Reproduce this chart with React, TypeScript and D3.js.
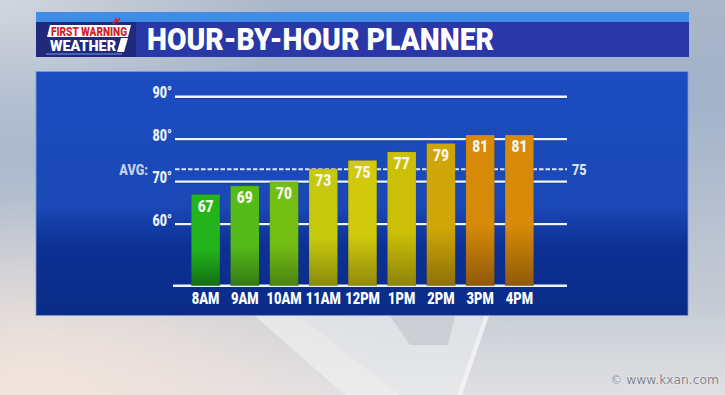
import React from "react";
import * as d3 from "d3";

const hours = ["8AM", "9AM", "10AM", "11AM", "12PM", "1PM", "2PM", "3PM", "4PM"];
const temps = [67, 69, 70, 73, 75, 77, 79, 81, 81];
const barTopColors = ["#23b31b", "#55bb18", "#74be14", "#c6c80c", "#d0c90c", "#ccbf08", "#cfa607", "#d68a07", "#d68a07"];
const barBottomColors = ["#137016", "#347a14", "#4a8410", "#8a8a0a", "#928a0a", "#8e840a", "#8e700a", "#8e5a0a", "#8e5a0a"];
const yTicks = [60, 70, 80, 90];
const yDomain = [45.5, 90];
const avgValue = 75;
const avgLineAt = 72.9;
const title = "HOUR-BY-HOUR PLANNER";

const W = 725;
const H = 395;
const FONT = "Roboto, 'Noto Sans', sans-serif";

function SText(props: {
  x: number; y: number; sx: number; size: number; fill: string;
  anchor?: string; children: React.ReactNode; weight?: number | string;
}) {
  const { x, y, sx, size, fill, anchor = "start", children, weight = 900 } = props;
  return (
    <g transform={`translate(${x},${y}) scale(${sx},1)`}>
      <text x={0} y={0} fontFamily={FONT} fontWeight={weight} fontSize={size} fill={fill} textAnchor={anchor as any}>
        {children}
      </text>
    </g>
  );
}

export default function App() {
  const x = d3.scaleBand<string>().domain(hours).range([186, 539]).paddingInner(0.27).paddingOuter(0.135);
  const y = d3.scaleLinear().domain(yDomain).range([285.7, 96.7]);
  const gridX0 = 175;
  const gridX1 = 567;
  const panel = { x0: 36, x1: 688, y0: 71.5, y1: 315.5 };

  return (
    <svg width={W} height={H} style={{ position: "absolute", left: 0, top: 0, display: "block" }}>
      <defs>
        <linearGradient id="sky" x1="0" y1="0" x2="0" y2="1">
          <stop offset="0" stopColor="#aab6c9" />
          <stop offset="0.25" stopColor="#a2b2ca" />
          <stop offset="0.75" stopColor="#c4cad3" />
          <stop offset="1" stopColor="#e0e0e2" />
        </linearGradient>
        <radialGradient id="glowBL" cx="0.05" cy="1" r="0.5">
          <stop offset="0" stopColor="#f4e4dc" stopOpacity="1" />
          <stop offset="1" stopColor="#f4e4dc" stopOpacity="0" />
        </radialGradient>
        <radialGradient id="glowTL" cx="0" cy="0" r="0.4">
          <stop offset="0" stopColor="#d2d6de" stopOpacity="1" />
          <stop offset="1" stopColor="#d2d6de" stopOpacity="0" />
        </radialGradient>
        <linearGradient id="panelGrad" x1="0" y1="0" x2="0" y2="1">
          <stop offset="0" stopColor="#1b4cc0" />
          <stop offset="0.55" stopColor="#1a48b6" />
          <stop offset="0.72" stopColor="#0c3094" />
          <stop offset="1" stopColor="#0a2c88" />
        </linearGradient>
        {hours.map((h, i) => (
          <linearGradient key={h} id={`bar${i}`} x1="0" y1="0" x2="0" y2="1">
            <stop offset="0" stopColor={barTopColors[i]} />
            <stop offset="0.6" stopColor={barTopColors[i]} />
            <stop offset="1" stopColor={barBottomColors[i]} />
          </linearGradient>
        ))}
      </defs>

      {/* background */}
      <rect x={0} y={0} width={W} height={H} fill="url(#sky)" />
      <rect x={0} y={0} width={W} height={H} fill="url(#glowBL)" />
      <rect x={0} y={0} width={W} height={H} fill="url(#glowTL)" />
      <polygon points="300,316 484,316 457,395 400,395" fill="#eceef0" opacity={0.55} />
      <polygon points="255,316 300,316 400,395 345,395" fill="#f4f4f4" opacity={0.6} />
      <polygon points="390,316 455,316 448,345 410,345" fill="#b0b4ba" opacity={0.4} />
      <polygon points="484,316 489,316 462,395 457,395" fill="#f6f6f6" opacity={0.8} />

      {/* header */}
      <rect x={36} y={12} width={653} height={10} fill="#3f8de6" />
      <rect x={36} y={22} width={653} height={35} fill="#2a37a6" />
      <rect x={36} y={22} width={100} height={35} fill="#1f2a7c" />
      <polygon points="50,25 131,25 128,37 47,37" fill="#ffffff" />
      <text x={51} y={35.5} fontFamily={FONT} fontWeight={900} fontSize={12} fill="#d41f2e" textLength={76} lengthAdjust="spacingAndGlyphs">FIRST WARNING</text>
      <path d="M113,24 l3,-5 l1,3 l3,-4" stroke="#d41f2e" strokeWidth={1.5} fill="none" />
      <text x={50} y={51} fontFamily={FONT} fontWeight={900} fontSize={15.5} fill="#ffffff" textLength={66} lengthAdjust="spacingAndGlyphs">WEATHER</text>
      <polygon points="121,38 128,38 124,52 117,52" fill="#ffffff" />
      <line x1={46} y1={54} x2={122} y2={54} stroke="#6aa0ee" strokeWidth={1} />
      <text x={147} y={50} fontFamily={FONT} fontWeight={900} fontSize={32} fill="#ffffff" textLength={347} lengthAdjust="spacingAndGlyphs">{title}</text>

      {/* panel */}
      <rect x={panel.x0} y={panel.y0} width={panel.x1 - panel.x0} height={panel.y1 - panel.y0} fill="url(#panelGrad)" stroke="#7d98d8" strokeWidth={0.8} />

      {/* gridlines */}
      {yTicks.map((t) => (
        <g key={t}>
          <line x1={gridX0} x2={gridX1} y1={y(t) + 1.2} y2={y(t) + 1.2} stroke="#0a2470" strokeWidth={1.5} opacity={0.6} />
          <line x1={gridX0} x2={gridX1} y1={y(t)} y2={y(t)} stroke="#f0f4ff" strokeWidth={2.4} />
          <SText x={172} y={y(t) + 1.7} sx={0.78} size={16} fill="#eef2ff" anchor="end">{`${t}°`}</SText>
        </g>
      ))}
      <line x1={173} x2={567} y1={y(yDomain[0])} y2={y(yDomain[0])} stroke="#f0f4ff" strokeWidth={2.4} />

      {/* avg line */}
      <line x1={gridX0} x2={gridX1} y1={y(avgLineAt)} y2={y(avgLineAt)} stroke="#dfe8ff" strokeWidth={2} strokeDasharray="4.5,2" />
      <SText x={148} y={y(avgLineAt) + 5.5} sx={0.84} size={15} fill="#c6d0ec" anchor="end">AVG:</SText>
      <SText x={572} y={y(avgLineAt) + 5.5} sx={0.84} size={15} fill="#dce6fa">{String(avgValue)}</SText>

      {/* bars */}
      {hours.map((h, i) => {
        const bx = x(h) as number;
        const bw = x.bandwidth();
        const top = y(temps[i]);
        const bottom = y(yDomain[0]);
        return (
          <g key={h}>
            <rect x={bx} y={top} width={bw} height={bottom - top} fill={`url(#bar${i})`} stroke="rgba(0,0,0,0.12)" strokeWidth={0.8} />
            <SText x={bx + bw / 2} y={top + 17.5} sx={0.86} size={16} fill="#f6f6ee" anchor="middle">{String(temps[i])}</SText>
            <SText x={bx + bw / 2} y={304} sx={0.76} size={17} fill="#ffffff" anchor="middle">{h}</SText>
          </g>
        );
      })}

      {/* watermark */}
      <text x={610} y={384} fontFamily="'DejaVu Sans', sans-serif" fontSize={11.5} fill="#80858e" stroke="#ffffff" strokeWidth={0.5} paintOrder="stroke" textLength={109} lengthAdjust="spacingAndGlyphs">© www.kxan.com</text>
    </svg>
  );
}
